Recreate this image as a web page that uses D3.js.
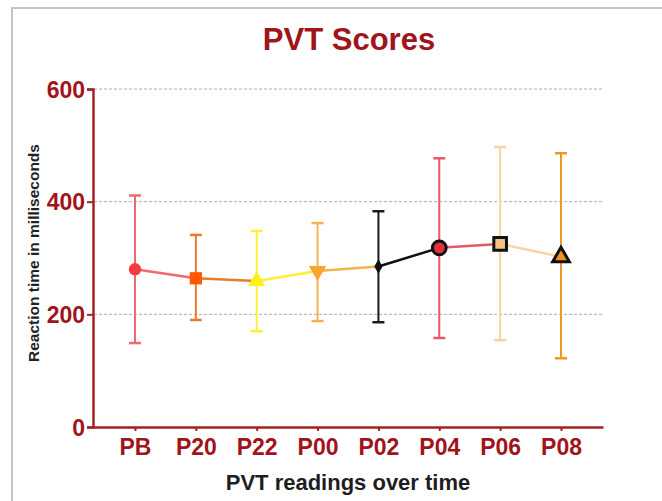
<!DOCTYPE html>
<html>
<head>
<meta charset="utf-8">
<script src="https://cdn.jsdelivr.net/npm/d3@7"></script>
<style>
body { margin: 0; background: #fff; }
svg text { font-family: "Liberation Sans", Arial, sans-serif; font-weight: bold; }
</style>
</head>
<body>
<svg id="chart" width="662" height="501"></svg>
<script>
// data
var readings = ["PB", "P20", "P22", "P00", "P02", "P04", "P06", "P08"];
var means = [280, 264, 259, 277, 285, 318, 325, 302];
var upper = [411, 341, 348, 362, 383, 477, 497, 486];
var lower = [149, 190, 170, 188, 186, 158, 154, 122];
var yTicks = [0, 200, 400, 600];

// look of each reading
var markerFill = ["#f23c3f", "#ff5a00", "#fff01e", "#f7a532", "#111111", "#e8303c", "#f7c27f", "#f5921f"];
var barColor = ["#ec6a70", "#ea7a2c", "#fff033", "#f6b24e", "#1a1a1a", "#e25a64", "#f9d3a4", "#f29426"];
var markerShape = [d3.symbolCircle, d3.symbolSquare, d3.symbolTriangle, d3.symbolTriangle, d3.symbolDiamond, d3.symbolCircle, d3.symbolSquare, d3.symbolTriangle];
var markerSize = [120, 150, 130, 130, 60, 150, 160, 120];
var markerRotate = [0, 0, 0, 180, 0, 0, 0, 0];
var outlined = [false, false, false, false, false, true, true, true];

var svg = d3.select("#chart");
var axisColor = "#a32024";

// frame
svg.append("path")
	.attr("d", "M12,501 V8 H662")
	.attr("fill", "none")
	.attr("stroke", "#c4c4c4")
	.attr("stroke-width", 2);

var x = d3.scalePoint().domain(readings).range([93, 603]).padding(0.69);
var y = d3.scaleLinear().domain([0, 600]).range([427, 89]);

// gridlines
svg.append("g").selectAll("line")
	.data(yTicks.filter(function(d) { return d > 0; }))
	.join("line")
	.attr("x1", 94)
	.attr("x2", 602)
	.attr("y1", function(d) { return y(d); })
	.attr("y2", function(d) { return y(d); })
	.attr("stroke", "#b9a9ad")
	.attr("stroke-width", 1)
	.attr("stroke-dasharray", "3,2");

// y axis
var yAxis = svg.append("g")
	.attr("transform", "translate(93,0)")
	.call(d3.axisLeft(y).tickValues(yTicks).tickSize(6).tickPadding(2));
yAxis.select(".domain").attr("stroke", axisColor).attr("stroke-width", 2.5);
yAxis.selectAll(".tick line").attr("stroke", axisColor).attr("stroke-width", 2);
yAxis.selectAll(".tick text")
	.attr("fill", "#a0141c")
	.style("font-size", "23px")
	.attr("dy", "0.36em");

// x axis
var xAxis = svg.append("g")
	.attr("transform", "translate(0,427)")
	.call(d3.axisBottom(x).tickSize(4).tickPadding(8).tickSizeOuter(0));
xAxis.select(".domain").attr("stroke", axisColor).attr("stroke-width", 2.5);
xAxis.selectAll(".tick line").attr("stroke", axisColor).attr("stroke-width", 2);
xAxis.selectAll(".tick text")
	.attr("fill", "#a0141c")
	.style("font-size", "23px");

// error bars
var bars = svg.append("g").selectAll("g")
	.data(readings)
	.join("g")
	.attr("stroke", function(d, i) { return barColor[i]; })
	.attr("stroke-width", 2);
bars.append("line")
	.attr("x1", function(d) { return x(d); })
	.attr("x2", function(d) { return x(d); })
	.attr("y1", function(d, i) { return y(upper[i]); })
	.attr("y2", function(d, i) { return y(lower[i]); });
bars.append("line")
	.attr("x1", function(d) { return x(d) - 6; })
	.attr("x2", function(d) { return x(d) + 6; })
	.attr("y1", function(d, i) { return y(upper[i]); })
	.attr("y2", function(d, i) { return y(upper[i]); })
	.attr("stroke-width", 2.5);
bars.append("line")
	.attr("x1", function(d) { return x(d) - 6; })
	.attr("x2", function(d) { return x(d) + 6; })
	.attr("y1", function(d, i) { return y(lower[i]); })
	.attr("y2", function(d, i) { return y(lower[i]); })
	.attr("stroke-width", 2.5);

// connecting segments, coloured by the reading they start from
svg.append("g").selectAll("line")
	.data(readings.slice(0, -1))
	.join("line")
	.attr("x1", function(d) { return x(d); })
	.attr("y1", function(d, i) { return y(means[i]); })
	.attr("x2", function(d, i) { return x(readings[i + 1]); })
	.attr("y2", function(d, i) { return y(means[i + 1]); })
	.attr("stroke", function(d, i) { return markerFill[i] == "#111111" ? "#111" : barColor[i]; })
	.attr("stroke-width", 2.5);

// markers
svg.append("g").selectAll("path")
	.data(readings)
	.join("path")
	.attr("d", function(d, i) { return d3.symbol().type(markerShape[i]).size(markerSize[i])(); })
	.attr("transform", function(d, i) { return "translate(" + x(d) + "," + y(means[i]) + ") rotate(" + markerRotate[i] + ")"; })
	.attr("fill", function(d, i) { return markerFill[i]; })
	.attr("stroke", function(d, i) { return outlined[i] ? "#111" : "none"; })
	.attr("stroke-width", 3);

// titles
svg.append("text")
	.attr("x", 349)
	.attr("y", 50)
	.attr("text-anchor", "middle")
	.attr("fill", "#a0141c")
	.style("font-size", "31px")
	.text("PVT Scores");

svg.append("text")
	.attr("x", 348)
	.attr("y", 490)
	.attr("text-anchor", "middle")
	.attr("fill", "#1e1e1e")
	.style("font-size", "22px")
	.text("PVT readings over time");

svg.append("text")
	.attr("transform", "translate(39,253) rotate(-90)")
	.attr("text-anchor", "middle")
	.attr("fill", "#222")
	.style("font-size", "15.5px")
	.text("Reaction time in milliseconds");
</script>
</body>
</html>
